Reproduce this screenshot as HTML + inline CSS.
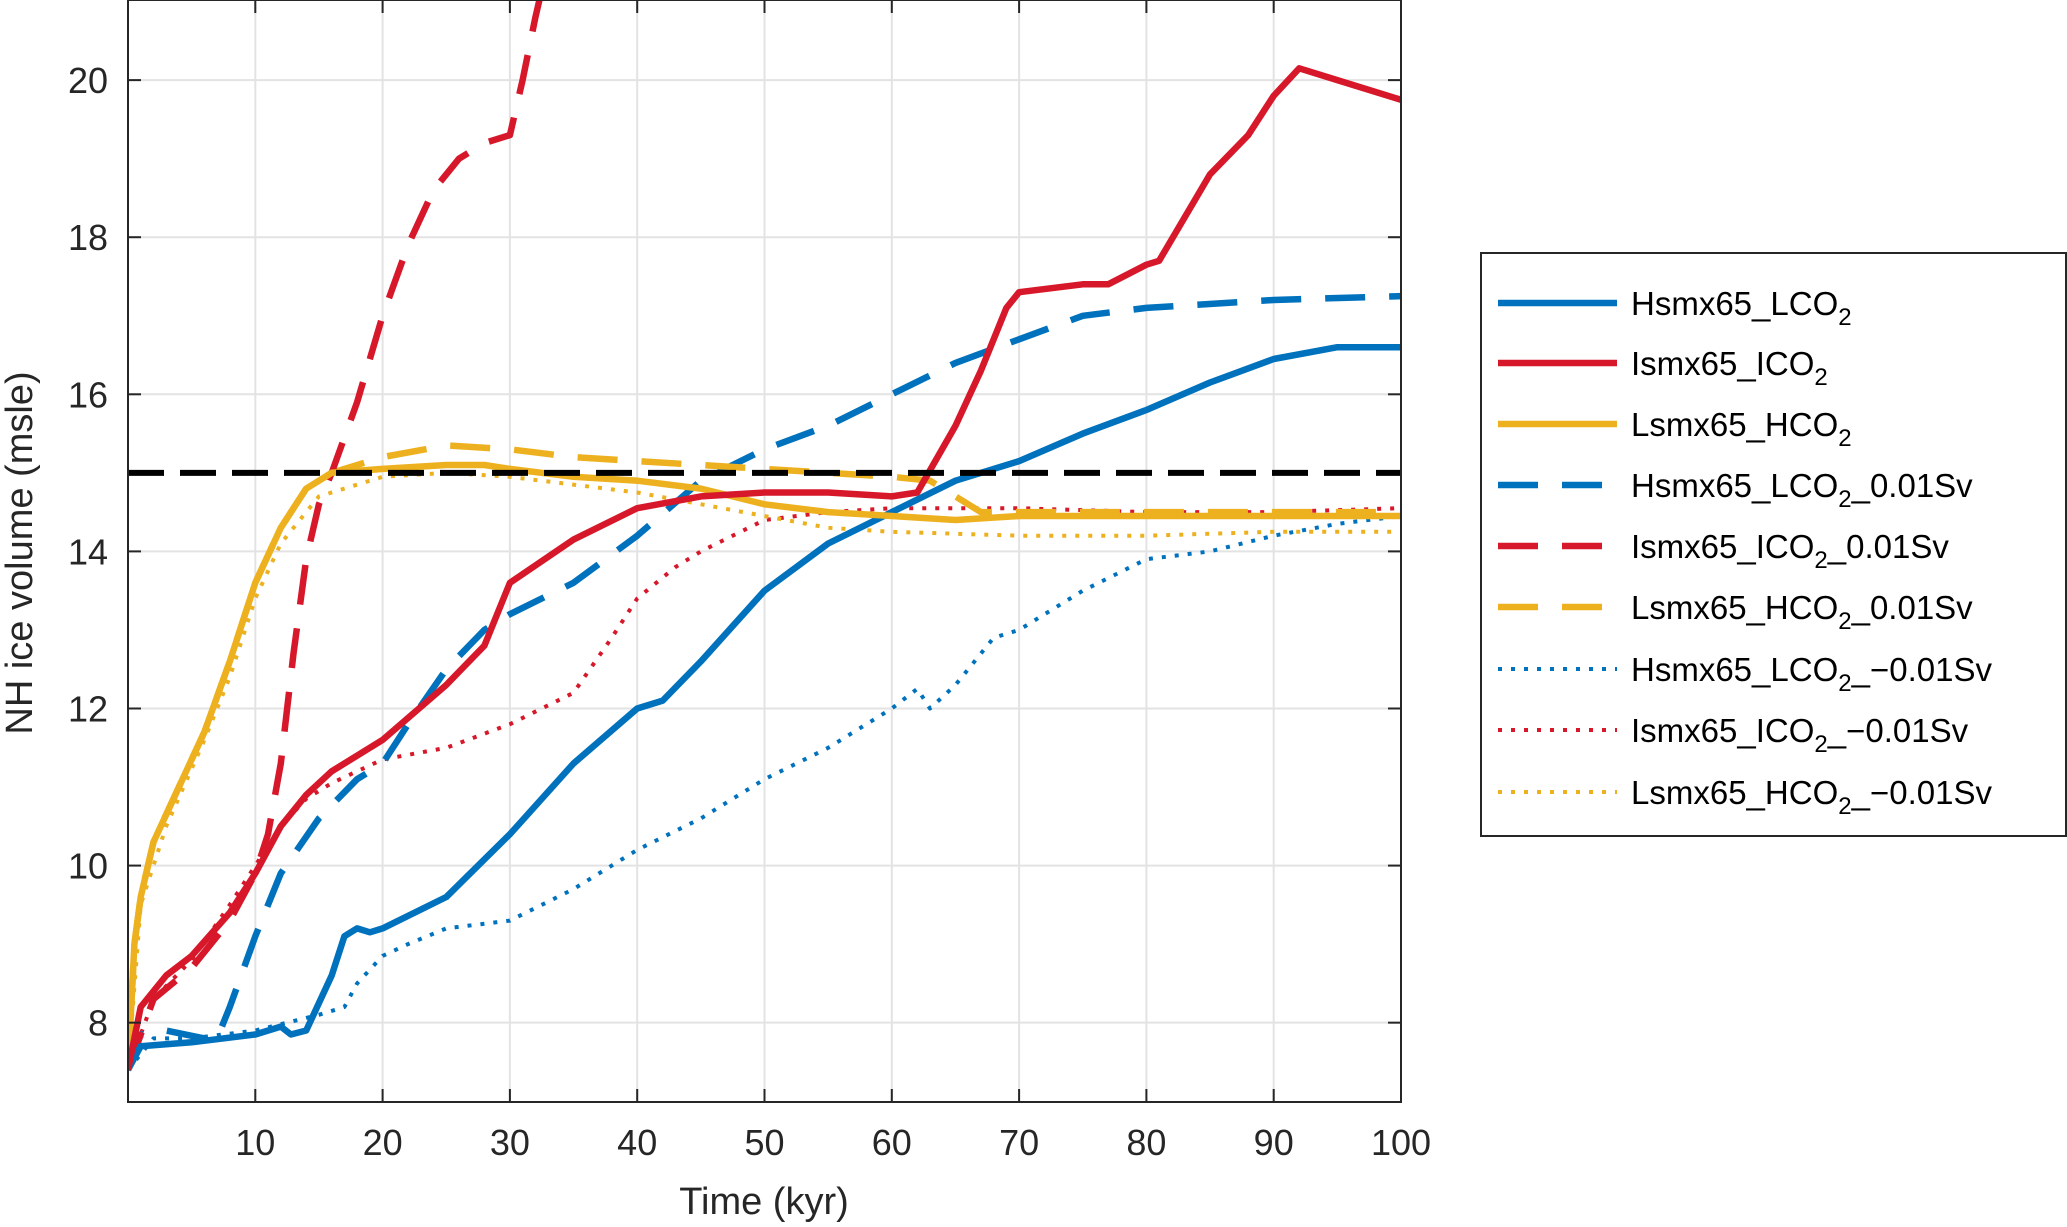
<!DOCTYPE html>
<html><head><meta charset="utf-8"><style>
html,body{margin:0;padding:0;background:#fff;}
svg{display:block;font-family:"Liberation Sans",Arial,sans-serif;}
</style></head><body>
<svg id="chart" width="2067" height="1227" viewBox="0 0 2067 1227" xmlns="http://www.w3.org/2000/svg">
<defs><clipPath id="pc"><rect x="128" y="0" width="1273" height="1102"/></clipPath></defs>
<g id="grid"></g>
<g id="series" clip-path="url(#pc)"></g>
<rect x="128" y="0" width="1273" height="1102" fill="none" stroke="#262626" stroke-width="2"/>
<g id="ticks"></g>
<text x="764" y="1214" font-size="38" text-anchor="middle" fill="#262626">Time (kyr)</text>
<text x="0" y="0" font-size="38" text-anchor="middle" fill="#262626" transform="translate(32,553) rotate(-90)">NH ice volume (msle)</text>
<g id="legend">
<rect x="1481" y="253" width="585" height="583" fill="#fff" stroke="#262626" stroke-width="2"/>
</g>
</svg>
<script>
const xTicks=[10,20,30,40,50,60,70,80,90,100];
const yTicks=[8,10,12,14,16,18,20];
const seriesNames=["Hsmx65_LCO2","Ismx65_ICO2","Lsmx65_HCO2","Hsmx65_LCO2_0.01Sv","Ismx65_ICO2_0.01Sv","Lsmx65_HCO2_0.01Sv","Hsmx65_LCO2_-0.01Sv","Ismx65_ICO2_-0.01Sv","Lsmx65_HCO2_-0.01Sv"];
const hSolidX=[0,1,5,10,12,12.8,14,16,17,18,19,20,25,30,35,40,42,45,50,55,60,65,70,75,80,85,90,95,100];
const hSolidY=[7.4,7.7,7.75,7.85,7.95,7.85,7.9,8.6,9.1,9.2,9.15,9.2,9.6,10.4,11.3,12.0,12.1,12.6,13.5,14.1,14.5,14.9,15.15,15.5,15.8,16.15,16.45,16.6,16.6];
const iSolidX=[0,1,3,5,8,10,12,14,16,20,25,28,30,35,40,45,50,55,60,62,65,67,69,70,75,77,80,81,85,88,90,92,95,100];
const iSolidY=[7.4,8.2,8.6,8.85,9.4,9.9,10.5,10.9,11.2,11.6,12.3,12.8,13.6,14.15,14.55,14.7,14.75,14.75,14.7,14.75,15.6,16.3,17.1,17.3,17.4,17.4,17.65,17.7,18.8,19.3,19.8,20.15,20.0,19.75];
const lSolidX=[0,0.5,1,2,4,6,8,10,12,14,16,20,25,28,30,35,40,45,50,55,60,65,70,80,90,100];
const lSolidY=[7.4,9,9.6,10.3,11.0,11.7,12.6,13.6,14.3,14.8,15.0,15.05,15.1,15.1,15.05,14.95,14.9,14.8,14.6,14.5,14.45,14.4,14.45,14.45,14.45,14.45];
const hDashX=[0,1,3,6,7,8,10,12,15,18,20,22,25,28,30,35,40,45,50,55,60,65,70,75,80,90,100];
const hDashY=[7.4,7.85,7.9,7.8,7.8,8.2,9.1,9.9,10.6,11.1,11.3,11.8,12.5,13.0,13.2,13.6,14.2,14.9,15.3,15.6,16.0,16.4,16.7,17.0,17.1,17.2,17.25];
const iDashX=[0,2,5,8,10,11,12,13,14,15,16,18,20,22,24,26,28,30,31,32,33];
const iDashY=[7.4,8.3,8.7,9.3,9.9,10.4,11.3,12.7,13.9,14.6,15.0,15.9,17.0,17.9,18.6,19.0,19.2,19.3,20.0,20.8,21.5];
const lDashX=[0,0.5,1,2,4,6,8,10,12,14,16,20,25,30,35,40,50,60,63,65,67,70,80,100];
const lDashY=[7.4,9,9.6,10.3,11.0,11.7,12.6,13.6,14.3,14.8,15.0,15.2,15.35,15.3,15.2,15.15,15.05,14.95,14.9,14.7,14.5,14.5,14.5,14.5];
const hDotX=[0,2,5,10,15,17,18,20,22,25,30,35,40,45,50,55,60,62,63,65,68,70,75,80,85,90,95,100];
const hDotY=[7.4,7.8,7.8,7.9,8.1,8.2,8.5,8.85,9.0,9.2,9.3,9.7,10.2,10.6,11.1,11.5,12.0,12.25,12.0,12.3,12.9,13.0,13.5,13.9,14.0,14.2,14.35,14.45];
const iDotX=[0,2,5,8,10,12,14,16,18,20,25,30,35,38,40,43,45,50,55,60,70,80,90,100];
const iDotY=[7.4,8.3,8.8,9.5,10.0,10.5,10.85,11.05,11.2,11.35,11.5,11.8,12.2,12.9,13.4,13.8,14.0,14.4,14.5,14.55,14.55,14.5,14.5,14.55];
const lDotX=[0,1,3,6,8,10,12,15,20,25,30,40,50,55,60,70,80,90,100];
const lDotY=[7.4,9.5,10.5,11.6,12.4,13.4,14.1,14.7,14.95,15.0,14.95,14.75,14.45,14.3,14.25,14.2,14.2,14.25,14.25];
const refLevel=[15];

const L=128,R=1401,T=0,B=1102,X0=0,X1=100,Y0=6.99,Y1=21.02;
const sx=v=>L+(v-X0)/(X1-X0)*(R-L);
const sy=v=>B-(v-Y0)/(Y1-Y0)*(B-T);
const NS="http://www.w3.org/2000/svg";
function mk(tag,attrs,parent){const e=document.createElementNS(NS,tag);for(const k in attrs)e.setAttribute(k,attrs[k]);parent.appendChild(e);return e;}
const grid=document.getElementById('grid'),ticks=document.getElementById('ticks'),ser=document.getElementById('series'),leg=document.getElementById('legend');
xTicks.forEach(t=>{const x=sx(t);
 let g=mk('line',{x1:x,x2:x,y1:T,y2:B,stroke:'#e3e3e3','stroke-width':2},grid);
 
 
 mk('line',{x1:x,x2:x,y1:B,y2:B-13,stroke:'#262626','stroke-width':2},ticks);
 mk('line',{x1:x,x2:x,y1:T,y2:T+13,stroke:'#262626','stroke-width':2},ticks);
 let tx=mk('text',{x:x,y:1155,'font-size':36,'text-anchor':'middle',fill:'#262626'},ticks);tx.textContent=t;
 
 
});
yTicks.forEach(t=>{const y=sy(t);
 let g=mk('line',{x1:L,x2:R,y1:y,y2:y,stroke:'#e3e3e3','stroke-width':2},grid);
 
 
 mk('line',{x1:L,x2:L+13,y1:y,y2:y,stroke:'#262626','stroke-width':2},ticks);
 mk('line',{x1:R,x2:R-13,y1:y,y2:y,stroke:'#262626','stroke-width':2},ticks);
 let tx=mk('text',{x:108,y:y+13,'font-size':36,'text-anchor':'end',fill:'#262626'},ticks);tx.textContent=t;
 
 
});
const BLUE='#0072BD',RED='#D7182A',YEL='#EDB120';
const SOLID='',DASH='40 24',DOT='4 9';
const all=[[hSolidX,hSolidY,BLUE,SOLID,6.5],[iSolidX,iSolidY,RED,SOLID,6.5],[lSolidX,lSolidY,YEL,SOLID,6.5],
[hDashX,hDashY,BLUE,DASH,6.5],[iDashX,iDashY,RED,DASH,6.5],[lDashX,lDashY,YEL,DASH,6.5],
[hDotX,hDotY,BLUE,DOT,4],[iDotX,iDotY,RED,DOT,4],[lDotX,lDotY,YEL,DOT,4]];
const drawOrder=[6,7,8,3,5,4,0,2,1];
drawOrder.forEach(i=>{const s=all[i];
 const d=s[0].map((x,j)=>(j?'L':'M')+sx(x).toFixed(1)+','+sy(s[1][j]).toFixed(1)).join('');
 const p=mk('path',{d:d,fill:'none',stroke:s[2],'stroke-width':s[4],'stroke-dasharray':s[3],'stroke-linejoin':'round'},ser);
 
 
});
const ref=mk('line',{x1:sx(0),x2:sx(100),y1:sy(refLevel[0]),y2:sy(refLevel[0]),stroke:'#000','stroke-width':6,'stroke-dasharray':'36 16'},ser);


const ly=[303,363,424,485,546,607,669,730,792];
const labels=[["Hsmx65_LCO","2",""],["Ismx65_ICO","2",""],["Lsmx65_HCO","2",""],["Hsmx65_LCO","2","_0.01Sv"],["Ismx65_ICO","2","_0.01Sv"],["Lsmx65_HCO","2","_0.01Sv"],["Hsmx65_LCO","2","_\u22120.01Sv"],["Ismx65_ICO","2","_\u22120.01Sv"],["Lsmx65_HCO","2","_\u22120.01Sv"]];
all.forEach((s,i)=>{const y=ly[i];
 const ln=mk('line',{x1:1498,x2:1617,y1:y,y2:y,stroke:s[2],'stroke-width':s[4],'stroke-dasharray':s[3]},leg);
 
 
 const t=mk('text',{x:1631,y:y+12,'font-size':33,fill:'#000'},leg);
 
 
 const a=mk('tspan',{},t);a.textContent=labels[i][0];
 const b=mk('tspan',{'font-size':24,dy:10},t);b.textContent=labels[i][1];
 const c=mk('tspan',{dy:-10},t);c.textContent=labels[i][2];
});
</script>
</body></html>
